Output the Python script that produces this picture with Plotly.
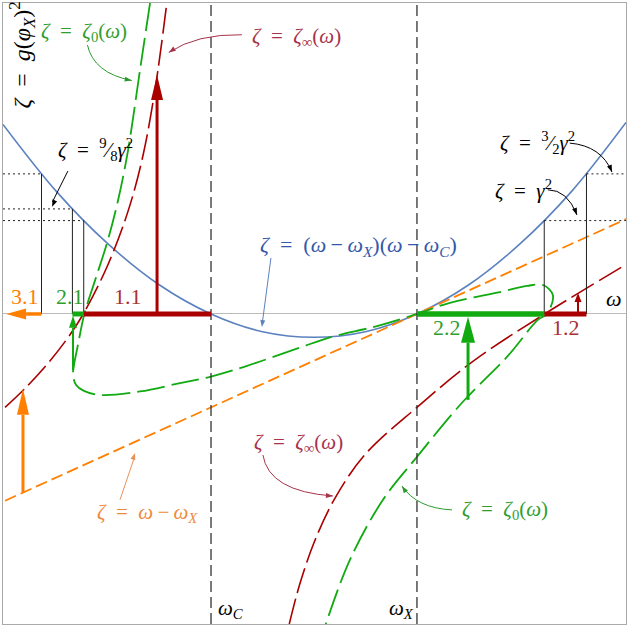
import math
import plotly.graph_objects as go

# Landmarks on the omega axis (gamma = 1)
omega_c = 0.0
omega_x = 1.0
omega_range = [-1.01, 2.015]
zeta_range = [-3.32, 3.33]

# zeta = (omega - omega_X)(omega - omega_C)
parabola_w = [-1.01, -0.75, -0.5, -0.25, 0.0, 0.25, 0.5, 0.75, 1.0, 1.25, 1.5, 1.75, 2.015]
parabola_z = [2.03, 1.31, 0.75, 0.31, 0.0, -0.19, -0.25, -0.19, 0.0, 0.31, 0.75, 1.31, 2.05]

# zeta = omega - omega_X
orange_w = [-1.0, 2.015]
orange_z = [-2.0, 1.015]

# zeta = zeta_inf(omega), two branches
red_left_w = [-1.0, -0.9, -0.8, -0.7, -0.62, -0.5, -0.4, -0.33, -0.27, -0.214]
red_left_z = [-1.0, -0.79, -0.55, -0.27, 0.0, 0.53, 1.12, 1.70, 2.43, 3.34]
red_right_w = [0.38, 0.43, 0.5, 0.6, 0.75, 1.0, 1.27, 1.62, 2.015]
red_right_z = [-3.32, -2.9, -2.45, -1.98, -1.5, -1.0, -0.51, 0.0, 0.53]

# zeta = zeta_0(omega), one curve with two turning loops
green_w = [-0.296, -0.345, -0.403, -0.451, -0.505, -0.563, -0.615, -0.646, -0.665,
           -0.670, -0.655, -0.617, -0.539, -0.345, -0.15, 0.0, 0.141, 0.432, 0.578,
           0.806, 1.0, 1.16, 1.403, 1.534, 1.612, 1.66, 1.631, 1.587, 1.437, 1.223,
           1.0, 0.835, 0.675, 0.553]
green_z = [3.33, 2.61, 1.75, 1.22, 0.76, 0.36, 0.0, -0.33, -0.545,
           -0.653, -0.76, -0.824, -0.867, -0.83, -0.74, -0.67, -0.58, -0.36, -0.25,
           -0.13, 0.0, 0.12, 0.235, 0.30, 0.31, 0.20, 0.0, -0.064, -0.46, -0.94,
           -1.53, -1.99, -2.63, -3.35]

# Levels zeta = gamma^2, 9/8 gamma^2, 3/2 gamma^2 where they meet the parabola
left_levels_w = [-0.823, -0.673, -0.618]
left_levels_z = [1.5, 1.125, 1.0]
right_levels_w = [1.618, 1.823]
right_levels_z = [1.0, 1.5]

# Intervals on the omega axis
interval_11 = [-0.618, 0.0]
interval_12 = [1.618, 1.823]
interval_21 = [-0.673, -0.618]
interval_22 = [1.0, 1.618]

# Arrows (tail -> tip)
arrow_11_w, arrow_11_z = [-0.262, -0.262], [0.0, 2.56]
arrow_12_w, arrow_12_z = [1.782, 1.782], [0.0, 0.225]
arrow_21_w, arrow_21_z = [-0.670, -0.670], [-0.60, -0.02]
arrow_22_w, arrow_22_z = [1.248, 1.248], [-0.92, -0.03]
arrow_31h_w, arrow_31h_z = [-0.823, -0.995], [0.0, 0.0]
arrow_31v_w, arrow_31v_z = [-0.913, -0.913], [-1.91, -0.80]

RED = "#aa0000"
GREEN = "#11aa11"
ORANGE = "#ff8000"
BLUE = "#5b82bf"
RED_TXT = "#a8324a"
GREEN_TXT = "#2f9e2f"
ORANGE_TXT = "#ef8a3c"
BLUE_TXT = "#3458aa"
FONT = "Liberation Serif"

W, H = 629, 627
MARGIN = dict(l=3, r=3, t=3, b=3)
XPX = (omega_range[1] - omega_range[0]) / (W - MARGIN["l"] - MARGIN["r"])
YPX = (zeta_range[1] - zeta_range[0]) / (H - MARGIN["t"] - MARGIN["b"])

fig = go.Figure()


def line(xs, ys, color, width, dash="solid", shape="linear"):
    fig.add_trace(go.Scatter(x=xs, y=ys, mode="lines", hoverinfo="skip",
                             line=dict(color=color, width=width, dash=dash,
                                       shape=shape, smoothing=1)))


def head(x0, y0, x1, y1, color, length, width):
    """Filled triangle at (x1, y1) pointing away from (x0, y0); sizes in px."""
    dx, dy = (x1 - x0) / XPX, (y1 - y0) / YPX
    n = math.hypot(dx, dy)
    ux, uy = dx / n, dy / n
    bx, by = x1 / XPX - ux * length, y1 / YPX - uy * length
    px, py = -uy * width / 2, ux * width / 2
    xs = [x1, (bx + px) * XPX, (bx - px) * XPX, x1]
    ys = [y1, (by + py) * YPX, (by - py) * YPX, y1]
    fig.add_trace(go.Scatter(x=xs, y=ys, mode="lines", fill="toself",
                             fillcolor=color, line=dict(width=0, color=color),
                             hoverinfo="skip"))
    return bx * XPX, by * YPX


def arrow(xs, ys, color, width, hl, hw):
    bx, by = head(xs[0], ys[0], xs[1], ys[1], color, hl, hw)
    line([xs[0], bx], [ys[0], by], color, width)


def curved(x0, y0, cx, cy, x1, y1, color):
    fig.add_shape(type="path", xref="x", yref="y",
                  path=f"M {x0},{y0} Q {cx},{cy} {x1},{y1}",
                  line=dict(color=color, width=1))
    head(cx, cy, x1, y1, color, 7, 5)


# Curves
line(parabola_w, parabola_z, BLUE, 1.6, shape="spline")
line(orange_w, orange_z, ORANGE, 1.8, dash="12px,5px")
line(red_left_w, red_left_z, RED, 1.6, dash="26px,6px", shape="spline")
line(red_right_w, red_right_z, RED, 1.6, dash="26px,6px", shape="spline")
line(green_w, green_z, GREEN, 1.8, dash="28px,7px", shape="spline")

# Dashed verticals at omega_C and omega_X
for w0 in (omega_c, omega_x):
    line([w0, w0], zeta_range, "#333333", 1.3, dash="11px,5px")

# Levels
for w0, z0 in zip(left_levels_w, left_levels_z):
    line([omega_range[0], w0], [z0, z0], "#222222", 1, dash="2px,3px")
    line([w0, w0], [z0, 0], "#222222", 1)
for w0, z0 in zip(right_levels_w, right_levels_z):
    line([w0, omega_range[1]], [z0, z0], "#222222", 1, dash="2px,3px")
    line([w0, w0], [z0, 0], "#222222", 1)

# Thick intervals
line(interval_11, [0, 0], RED, 5)
line(interval_12, [0, 0], RED, 5)
line(interval_21, [0, 0], GREEN, 5)
line(interval_22, [0, 0], GREEN, 5.5)

# Arrows
arrow(arrow_11_w, arrow_11_z, RED, 3, 25, 12)
arrow(arrow_12_w, arrow_12_z, RED, 2, 9, 7)
arrow(arrow_21_w, arrow_21_z, GREEN, 2, 12, 8)
arrow(arrow_22_w, arrow_22_z, GREEN, 3, 26, 14)
arrow(arrow_31h_w, arrow_31h_z, ORANGE, 3.5, 20, 11)
arrow(arrow_31v_w, arrow_31v_z, ORANGE, 3, 26, 12)

Z = "<i>ζ</i>"
Wm = "<i>ω</i>"
EQ = "\u2002=\u2002"
MINUS = "\u2009−\u2009"


def label(x, y, text, color, size=21, angle=0):
    fig.add_annotation(x=x, y=y, text=text, showarrow=False, textangle=angle,
                       font=dict(family=FONT, size=size, color=color))


label(-0.917, 2.77, f"{Z}{EQ}<i>g</i>(<i>φ</i><sub><i>X</i></sub>)<sup>2</sup>",
      "black", size=24, angle=-90)

label(-0.617, 3.02, f"{Z}{EQ}{Z}<sub>0</sub>({Wm})", GREEN_TXT)
curved(-0.60, 2.88, -0.57, 2.58, -0.385, 2.50, "#2a9a2a")

label(0.417, 2.966, f"{Z}{EQ}{Z}<sub>∞</sub>({Wm})", RED_TXT)
curved(0.150, 2.99, -0.07, 3.0, -0.205, 2.80, RED_TXT)

label(-0.563, 1.756, f"{Z}{EQ}<sup>9</sup>⁄<sub>8</sub><i>γ</i><sup>2</sup>", "black")
line([-0.695, -0.770], [1.53, 1.20], "black", 1)
head(-0.695, 1.53, -0.772, 1.148, "black", 7, 5)

label(1.583, 1.831, f"{Z}{EQ}<sup>3</sup>⁄<sub>2</sub><i>γ</i><sup>2</sup>", "black")
curved(1.742, 1.83, 1.895, 1.80, 1.947, 1.52, "black")

label(1.515, 1.328, f"{Z}{EQ}<i>γ</i><sup>2</sup>", "black")
curved(1.635, 1.33, 1.730, 1.33, 1.777, 1.06, "black")

label(0.714, 0.728,
      f"{Z}{EQ}({Wm}{MINUS}{Wm}<sub><i>X</i></sub>)({Wm}{MINUS}{Wm}<sub><i>C</i></sub>)",
      BLUE_TXT, size=22)
line([0.291, 0.250], [0.60, -0.08], "#5b82bf", 1)
head(0.291, 0.60, 0.247, -0.14, "#5b82bf", 7, 5)

label(-0.903, 0.182, "3.1", ORANGE, size=22)
label(-0.684, 0.182, "2.1", GREEN_TXT, size=22)
label(-0.403, 0.182, "1.1", "#a83232", size=22)
label(1.146, -0.150, "2.2", GREEN_TXT, size=22)
label(1.723, -0.150, "1.2", "#a83232", size=22)
label(1.956, 0.171, Wm, "black", size=22)

label(0.427, -1.381, f"{Z}{EQ}{Z}<sub>∞</sub>({Wm})", RED_TXT)
curved(0.252, -1.51, 0.28, -1.90, 0.592, -1.949, RED_TXT)

label(1.427, -2.098, f"{Z}{EQ}{Z}<sub>0</sub>({Wm})", GREEN_TXT)
curved(1.170, -2.098, 1.00, -2.08, 0.927, -1.842, "#2a9a2a")

label(-0.306, -2.131, f"{Z}{EQ}{Wm}{MINUS}{Wm}<sub><i>X</i></sub>", ORANGE_TXT)
line([-0.442, -0.374], [-1.99, -1.55], "#e8925a", 1)
head(-0.442, -1.99, -0.369, -1.488, "#e8925a", 7, 5)

label(0.097, -3.158, f"{Wm}<sub><i>C</i></sub>", "black")
label(0.925, -3.158, f"{Wm}<sub><i>X</i></sub>", "black")

fig.update_layout(
    width=W, height=H, margin=MARGIN, showlegend=False,
    plot_bgcolor="white", paper_bgcolor="white",
    xaxis=dict(range=omega_range, showgrid=False, zeroline=False,
               showticklabels=False, ticks="", showline=True, mirror=True,
               linecolor="#aaaaaa", linewidth=1),
    yaxis=dict(range=zeta_range, showgrid=False, zeroline=True,
               zerolinecolor="#bbbbbb", zerolinewidth=1,
               showticklabels=False, ticks="", showline=True, mirror=True,
               linecolor="#aaaaaa", linewidth=1),
)

fig.write_html("out.html", config={"displayModeBar": False},
               post_script="document.body.style.margin='0';")
